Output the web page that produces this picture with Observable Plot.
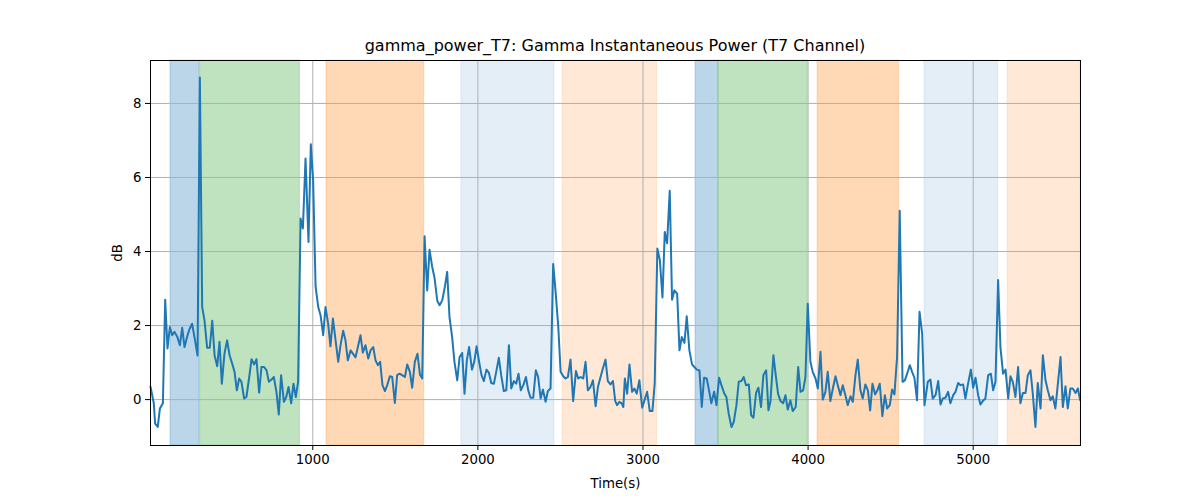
<!DOCTYPE html>
<html>
<head>
<meta charset="utf-8">
<script src="https://cdn.jsdelivr.net/npm/d3@7"></script>
<script src="https://cdn.jsdelivr.net/npm/@observablehq/plot@0.6"></script>
<style>
  body { margin: 0; background: #fff; font-family: "DejaVu Sans", sans-serif; }
  #wrap { position: relative; width: 1200px; height: 500px; }
  #title { position: absolute; left: 150px; width: 930px; top: 36px; text-align: center; font-size: 16px; color: #000; }
</style>
</head>
<body>
<div id="wrap">
  <div id="title">gamma_power_T7: Gamma Instantaneous Power (T7 Channel)</div>
  <div id="chart"></div>
</div>
<script>
const times = [17,37,45,61,74,92,106,120,134,148,162,179,195,209,223,239,253,269,286,302,316,330,344,360,376,391,405,421,435,449,465,481,496,512,526,540,554,568,584,598,615,629,645,659,675,689,705,720,734,750,764,780,794,808,825,839,853,869,883,897,911,926,940,
956,974,988,1002,1017,1033,1047,1063,1077,1093,1107,1122,1138,1154,1168,1184,1198,1212,1229,1243,1259,1273,1289,1303,1319,1336,1350,1366,1380,1394,1408,1422,1437,1451,1467,1481,1497,1511,1525,1541,1558,1572,1588,1602,1618,1634,1649,1663,1677,1693,1707,1723,1737,1754,1768,1784,1800,1814,1828,1844,1858,1875,1889,
1905,1919,1933,1947,1964,1978,1992,2006,2022,2036,2052,2067,2081,2097,2111,2127,2141,2157,2172,2188,2202,2218,2232,2246,2260,2277,2291,2305,2319,2335,2351,2365,2380,2394,2410,2424,2440,2456,2470,2487,2501,2517,2531,2545,2561,2577,2594,2608,2622,2638,2652,2666,2682,2697,2713,2727,2743,2757,2773,2787,2803,2818,2832,
2843,2857,2871,2881,2890,2904,2918,2934,2948,2962,2978,2995,3009,3025,3041,3057,3071,3087,3102,3118,3132,3146,3162,3176,3190,3207,3221,3235,3251,3265,3281,3297,3311,3326,3342,3356,3370,3386,3400,3414,3431,3445,3461,3475,3491,3505,3519,3536,3550,3566,3580,3596,3610,3624,3641,3655,3669,3685,3699,3715,3729,3746,3760,
3772,3790,3804,3818,3833,3849,3863,3877,3893,3907,3925,3940,3954,3970,3984,3998,4014,4028,4045,4059,4075,4089,4105,4119,4135,4150,4166,4180,4196,4210,4226,4240,4257,4271,4287,4301,4317,4331,4347,4362,4376,4390,4406,4420,4434,4450,4465,4479,4495,4509,4523,4539,4555,4572,4586,4600,4616,4630,4644,4660,4675,4691,4705,
4725,4741,4755,4772,4788,4802,4816,4832,4848,4862,4879,4893,4909,4923,4939,4953,4969,4986,5000,5014,5030,5044,5058,5074,5091,5107,5121,5135,5151,5165,5181,5196,5212,5226,5240,5256,5272,5286,5301,5317,5331,5347,5361,5377,5391,5408,5422,5438,5452,5468,5482,5498,5513,5529,5543,5559,5573,5589,5603,5620,5634,5648];

const power = [0.35,-0.1,-0.65,-0.74,-0.24,-0.1,2.7,1.38,1.96,1.74,1.83,1.7,1.47,1.94,1.42,1.7,1.9,2.05,1.62,1.19,8.7,2.5,2.14,1.4,1.4,2.13,1.2,0.9,1.56,0.43,1.24,1.6,1.2,0.97,0.75,0.25,0.57,0.48,0.03,0.07,0.61,1.09,0.95,1.09,0.19,0.88,0.88,0.79,0.48,0.54,0.61,0.2,-0.4,0.66,-0.06,0.07,0.34,-0.1,0.43,0.07,0.48,4.89,4.62,
6.51,4.26,6.9,5.93,3.05,2.5,2.28,1.74,2.5,2.05,1.44,2.19,1.6,1.02,1.47,1.86,1.6,1.06,1.33,1.24,1.14,1.42,1.74,1.27,1.47,1.11,1.33,1.42,1.06,0.93,1.02,0.39,0.23,0.39,0.63,0.61,-0.09,0.66,0.7,0.66,0.61,0.95,0.75,0.32,1.02,1.24,0.68,0.57,4.41,2.95,4.05,3.59,3.3,2.67,2.55,2.68,3.05,3.45,2.23,1.69,1.02,0.52,1.15,
1.26,0.16,1.06,1.42,0.81,1.02,1.44,1.06,0.66,0.5,0.81,0.72,0.45,0.43,0.75,1.13,0.66,0.23,0.25,1.47,0.3,0.5,0.43,0.7,0.25,0.41,0.61,0.25,0.05,0.05,0.79,0.61,0.03,0.27,-0.06,0.23,0.3,3.66,2.95,1.96,0.75,0.63,0.57,0.61,1.08,-0.04,0.77,0.57,0.61,0.57,1.02,0.25,0.34,0.52,-0.18,0.34,0.61,0.84,1.08,0.5,0.41,0.5,-0.04,
-0.15,-0.06,-0.1,-0.2,0.57,0.16,0.95,0.21,0.3,0.16,0.52,-0.22,-0.02,0.21,-0.31,-0.31,0.43,4.08,3.77,2.76,4.53,4.22,5.64,2.7,2.95,2.86,1.33,1.69,1.53,2.25,1.33,0.95,0.88,0.81,0.79,-0.2,0.59,0.57,0.25,-0.1,0.21,-0.15,0.59,0.39,0.18,0.07,-0.38,-0.74,-0.6,-0.15,0.48,0.5,0.61,0.39,0.41,-0.42,-0.49,0.18,0.32,-0.2,0.66,0.79,-0.29,
-0.05,1.2,0.66,0.16,-0.04,-0.1,0.12,-0.27,-0.02,-0.31,-0.2,0.88,0.21,0.25,0.61,2.59,1.02,0.75,0.57,0.3,1.29,0,0.21,0.75,-0.04,0.3,0.63,0.39,0.12,0.39,0.12,-0.15,0.09,-0.06,0.66,1.08,0.25,0.03,0.41,0.25,-0.29,0.43,0.14,0.25,0.43,-0.45,0.12,-0.24,-0.15,0.27,0.14,1.15,5.1,0.48,0.52,0.7,0.93,0.75,0.59,-0.02,2.37,1.78,-0.15,
0.48,0.54,0.03,0.12,0.5,-0.13,0.03,0.05,0.21,-0.1,0.12,0.21,0.45,0.39,0.41,0.03,0.43,0.81,0.32,0.59,0.12,-0.13,-0.04,0.03,0.66,0.7,0.25,0.48,3.23,1.42,0.7,0.81,0.03,0.63,0.48,0.07,0.88,-0.1,0.18,0.18,0.66,0.79,0.16,-0.74,0.45,-0.24,1.2,0.52,0.25,-0.02,0.09,-0.24,0.43,1.15,-0.2,0.36,-0.24,0.3,0.3,0.18,0.3,-0.02];

const bandStart = [138, 318, 1083, 1900, 2513, 3318, 3458, 4057, 4705, 5208];
const bandEnd   = [314, 922, 1675, 2464, 3085, 3457, 3998, 4551, 5151, 5650];
const bandColor = ["#1f77b4","#2ca02c","#ff7f0e","#1f77b4","#ff7f0e","#1f77b4","#2ca02c","#ff7f0e","#1f77b4","#ff7f0e"];
const bandAlpha = [0.3,0.3,0.3,0.12,0.17,0.3,0.3,0.3,0.12,0.17];

const xTicks = [1000, 2000, 3000, 4000, 5000];
const yTicks = [0, 2, 4, 6, 8];

const series = times.map((t, i) => ({t, v: power[i]}));
const bands = bandStart.map((s, i) => ({s, e: bandEnd[i], c: bandColor[i], a: bandAlpha[i]}));

const chart = Plot.plot({
  width: 1200,
  height: 500,
  marginTop: 60,
  marginBottom: 55,
  marginLeft: 150,
  marginRight: 120,
  style: {fontFamily: "DejaVu Sans, sans-serif", fontSize: "13.3px", color: "#000", background: "#fff"},
  x: {domain: [17, 5650]},
  y: {domain: [-1.24, 9.16]},
  marks: [
    Plot.rectX(bands, {x1: "s", x2: "e", y1: -1.24, y2: 9.16, fill: "c", fillOpacity: "a", stroke: "c", strokeOpacity: d => d.a * 0.8, strokeWidth: 1}),
    Plot.gridX(xTicks, {stroke: "#b0b0b0", strokeOpacity: 1, strokeWidth: 1}),
    Plot.gridY(yTicks, {stroke: "#b0b0b0", strokeOpacity: 1, strokeWidth: 1}),
    Plot.line(series, {x: "t", y: "v", stroke: "#1f77b4", strokeWidth: 2}),
    Plot.frame({stroke: "#000", strokeWidth: 1}),
    Plot.axisX({ticks: xTicks, tickFormat: d => String(d), tickSize: 5, tickPadding: 4, label: "Time(s)", labelAnchor: "center", labelArrow: "none", labelOffset: 42, fontSize: 13.3}),
    Plot.axisY({ticks: yTicks, tickFormat: d => String(d), tickSize: 5, tickPadding: 4, label: "dB", labelAnchor: "center", labelArrow: "none", labelOffset: 38, fontSize: 13.3})
  ]
});
document.getElementById("chart").appendChild(chart);
</script>
</body>
</html>
